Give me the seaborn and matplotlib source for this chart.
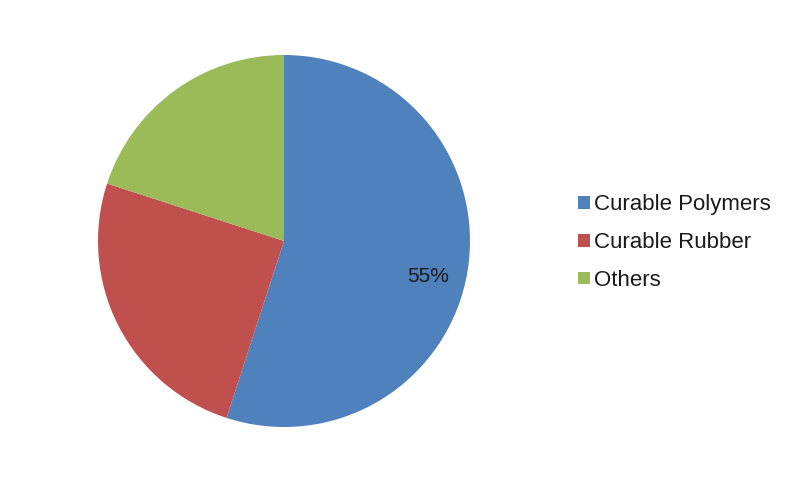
import matplotlib
matplotlib.use("Agg")
import matplotlib.pyplot as plt
import seaborn as sns
from matplotlib.patches import Patch

categories = ["Curable Polymers", "Curable Rubber", "Others"]
shares = [55, 25, 20]
colors = ["#4F81BD", "#C0504D", "#9BBB59"]

sns.set_theme(style="white")
plt.rcParams["font.family"] = ["Liberation Sans", "DejaVu Sans"]

fig = plt.figure(figsize=(8, 4.82), dpi=100)
W, H = 800, 482
cx, cy, r = 284, 241, 186
ax = fig.add_axes([(cx - r) / W, (H - cy - r) / H, 2 * r / W, 2 * r / H])

pal = sns.color_palette(colors)
wedges, texts, autotexts = ax.pie(
    shares, colors=pal, startangle=90, counterclock=False,
    autopct=lambda p: f"{p:.0f}%" if p > 50 else "",
    pctdistance=0.8, radius=1.0,
    wedgeprops=dict(linewidth=0),
    textprops=dict(fontsize=15, color="#1a1a1a"),
)
autotexts[0].set_position((0.775, -0.19))
ax.set_xlim(-1, 1)
ax.set_ylim(-1, 1)
ax.set_aspect("equal")
ax.axis("off")

handles = [Patch(facecolor=c, edgecolor="none", label=l) for c, l in zip(pal, categories)]
fig.legend(handles=handles, loc="center left", bbox_to_anchor=(578 / W, (H - 242.5) / H),
           frameon=False, fontsize=16, handlelength=0.52, handleheight=0.52,
           handletextpad=0.22, labelspacing=0.76, borderpad=0, borderaxespad=0,
           labelcolor="#1a1a1a")

fig.savefig("out.png", dpi=100, facecolor="white")
